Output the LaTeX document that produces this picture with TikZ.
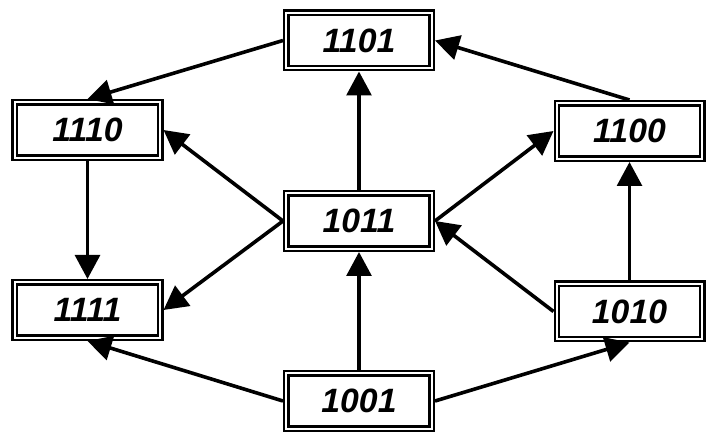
\documentclass[tikz,border=0pt]{standalone}
\usepackage{fontspec}
\setmainfont{Liberation Sans}
\usetikzlibrary{arrows.meta}

\begin{document}
\begin{tikzpicture}[x=0.25cm,y=0.25cm,>={Triangle[length=0.6cm,width=0.62cm]},
    font=\fontsize{24}{28}\selectfont\bfseries\itshape,
    code/.style={draw, double, line width=0.06cm, double distance=0.05cm,
      minimum width=3.63cm, minimum height=1.38cm, inner sep=0pt, outer sep=0.085cm},
    link/.style={->, line width=0.09cm}]
    \useasboundingbox (0,0) rectangle (70.7,43.2);

    % Codes
    \node[code] (c1101) at (35.9,39.15) {1101};
    \node[code] (c1110) at (8.75,30.2) {1110};
    \node[code] (c1100) at (62.95,30.1) {1100};
    \node[code] (c1011) at (35.9,21.1) {1011};
    \node[code] (c1111) at (8.75,12.2) {1111};
    \node[code] (c1010) at (62.95,12.05) {1010};
    \node[code] (c1001) at (35.9,3.1) {1001};

    % Upper links
    \draw[link] (c1101.west) -- (c1110.north);
    \draw[link] (c1100.north) -- (c1101.east);
    \draw[link] (c1011) -- (c1101);

    % Middle links
    \draw[link] (c1011.west) -- (c1110.east);
    \draw[link] (c1011.west) -- (c1111.east);
    \draw[link] (c1011.east) -- (c1100.west);
    \draw[link] (c1010.west) -- (c1011.east);
    \draw[link] (c1110) -- (c1111);
    \draw[link] (c1010) -- (c1100);

    % Lower links
    \draw[link] (c1001) -- (c1011);
    \draw[link] (c1001.west) -- (c1111.south);
    \draw[link] (c1001.east) -- (c1010.south);
  \end{tikzpicture}
\end{document}
